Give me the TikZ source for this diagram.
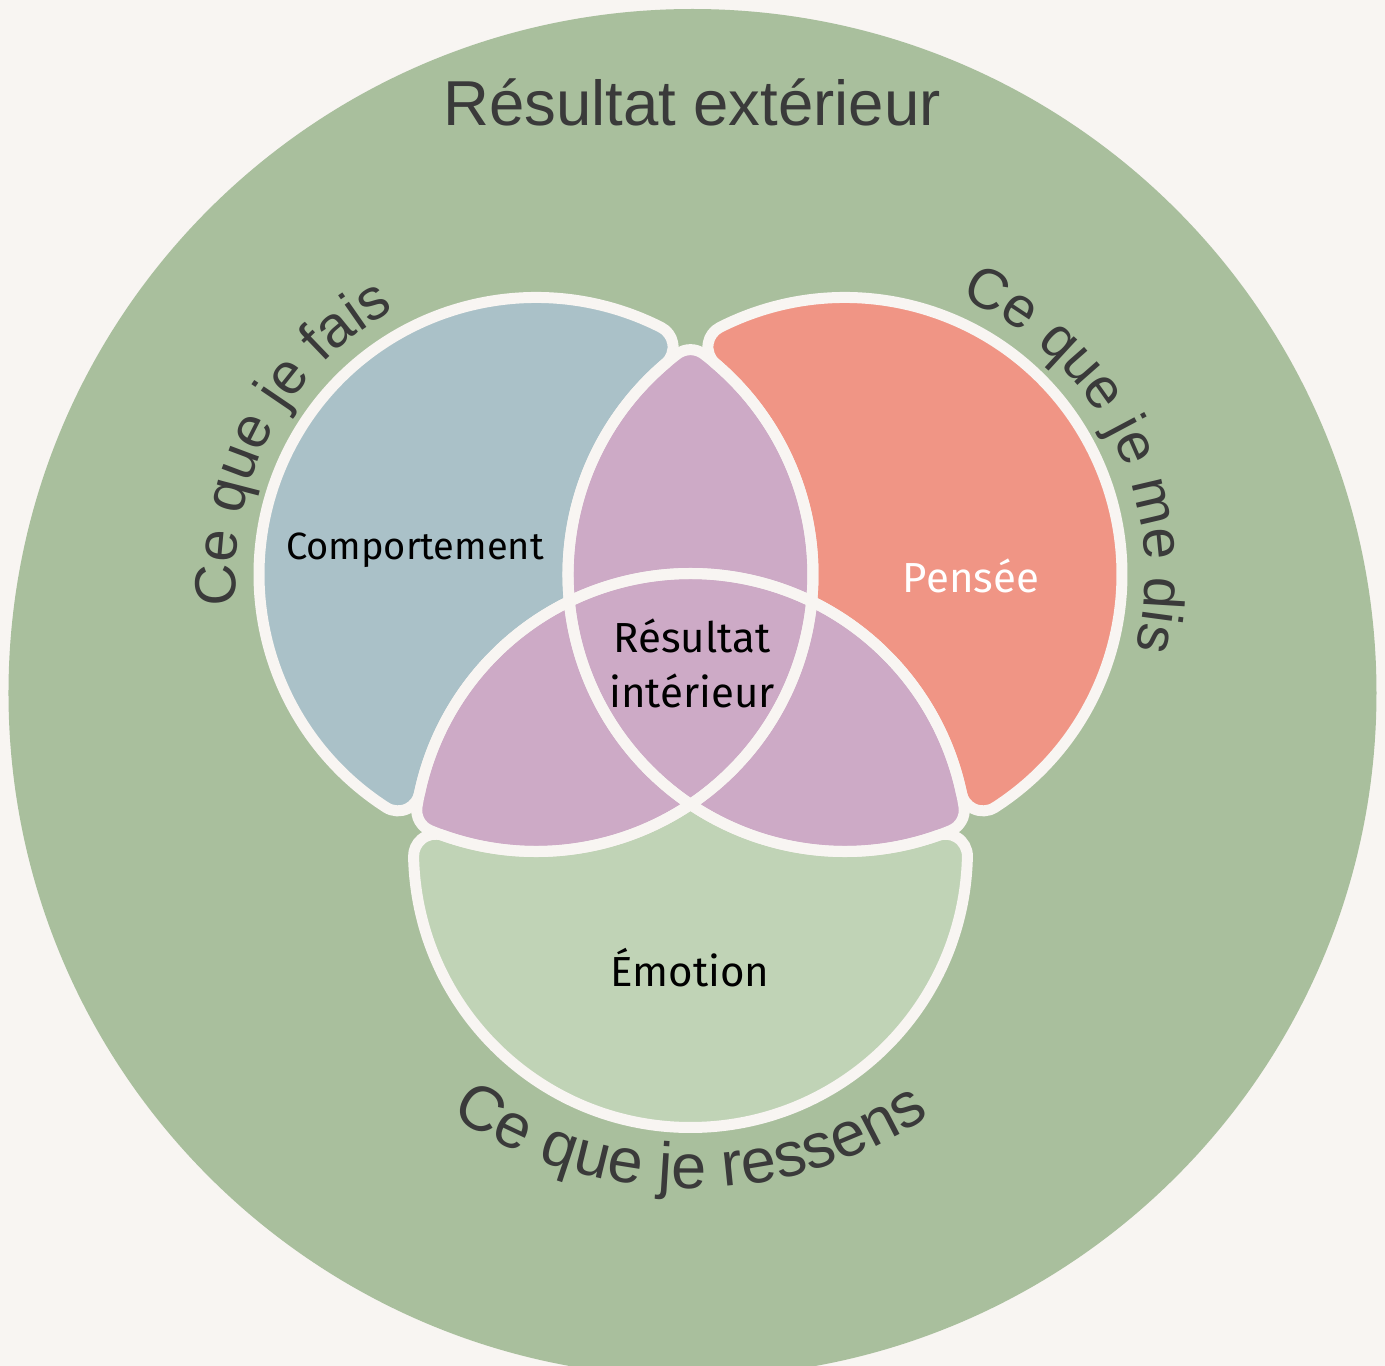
\documentclass[tikz,border=0pt]{standalone}
\usepackage{fontspec}
\setmainfont{Liberation Sans}
\newfontfamily\labelfont{Fira Sans}
\usetikzlibrary{decorations.text}

\definecolor{paper}{HTML}{F8F5F2}
\definecolor{sage}{HTML}{A9BF9D}
\definecolor{mist}{HTML}{AAC1C8}
\definecolor{salmon}{HTML}{F09585}
\definecolor{lilac}{HTML}{CDAAC6}
\definecolor{mint}{HTML}{C0D3B6}
\definecolor{ink}{HTML}{3A3A3A}

\newcommand\ringfont[1]{\fontsize{#1}{1.2\dimexpr#1pt\relax}\selectfont}
\newcommand\partfont[1]{\labelfont\fontsize{#1}{55}\selectfont}

\tikzset{
  band/.style={draw=paper, line width=11pt, line join=round},
  part label/.style={font=\partfont{42}, text=black, align=center},
  ring label/.style={font=\ringfont{63.5}, text=ink},
  ring text/.style 2 args={decorate, decoration={text along path, text align=center,
      text={|\ringfont{#1}\color{ink}|#2}}},
}

\begin{document}
\begin{tikzpicture}[x=1pt, y=1pt]
  \def\rad{277}
  \def\cx{154.5}
  \def\cy{276}
  \def\rc{22}
  % same lengths /100 so pgfmath stays in range
  \pgfmathsetmacro\mRad{2.77}
  \pgfmathsetmacro\mDx{1.545}
  \pgfmathsetmacro\mDy{2.76}
  \pgfmathsetmacro\mRc{0.22}
  \pgfmathsetmacro\mDist{sqrt(\mDx*\mDx+\mDy*\mDy)}
  \pgfmathsetmacro\angTilt{atan(\mDy/\mDx)}
  \pgfmathsetmacro\angIn{acos(\mDist/(2*\mRad))}
  \pgfmathsetmacro\angX{acos(\mDx/\mRad)}
  \pgfmathsetmacro\angA{acos((\mDx*\mDx-\mRad*\mRc)/(\mDx*(\mRad-\mRc)))}
  \pgfmathsetmacro\angB{acos((\mDx*\mDx+\mRad*\mRc)/(\mDx*(\mRad+\mRc)))}
  \pgfmathsetmacro\angG{acos(\mDx/(\mRad-\mRc))}
  \pgfmathsetmacro\angAA{acos((\mDist*\mDist-4*\mRad*\mRc)/(2*\mDist*(\mRad-\mRc)))}
  \pgfmathsetmacro\angBB{acos((\mDist*\mDist+4*\mRad*\mRc)/(2*\mDist*(\mRad+\mRc)))}
  \pgfmathsetmacro\angGG{acos(\mDist/(2*(\mRad-\mRc)))}
  % inner crossings
  \pgfmathsetmacro\yRr{180+\angTilt-\angIn}
  \pgfmathsetmacro\yRb{\angTilt+\angIn}
  \pgfmathsetmacro\yLl{\angIn-\angTilt}
  \pgfmathsetmacro\yLb{180-\angTilt-\angIn}
  \pgfmathsetmacro\zLa{360-\angX}
  \pgfmathsetmacro\zLb{0-\angX}
  \pgfmathsetmacro\zRa{180+\angX}
  % rounded outer corners
  \pgfmathsetmacro\blueS{180-\angB}
  \pgfmathsetmacro\blueF{0-\angB}
  \pgfmathsetmacro\blueL{360-\angTilt-\angAA}
  \pgfmathsetmacro\blueM{360-\angTilt+\angBB}
  \pgfmathsetmacro\blueN{180-\angTilt+\angBB}
  \pgfmathsetmacro\topM{180-\angG}
  \pgfmathsetmacro\lowA{180-\angTilt+\angGG}
  \pgfmathsetmacro\lowB{360-\angTilt-\angGG}
  \pgfmathsetmacro\emoA{180-\angTilt+\angAA}
  \pgfmathsetmacro\emoB{360+\angTilt-\angAA}
  \pgfmathsetmacro\emoC{\angTilt-\angAA}
  \pgfmathsetmacro\emoD{\angTilt+\angBB}
  \pgfmathsetmacro\emoE{180+\angTilt+\angBB}
  \pgfmathsetmacro\emoF{360-\angTilt-\angBB}
  \pgfmathsetmacro\emoG{180-\angTilt-\angBB}

  \def\partFais{({\cx+\rad*cos(\blueS)},{\rad*sin(\blueS)})
    arc[start angle=\blueF, end angle=\angA, radius=\rc]
    arc[start angle=\angA, end angle=\blueL, radius=\rad]
    arc[start angle=\blueL, end angle=\blueM, radius=\rc]
    arc[start angle=\blueN, end angle=\yRb, radius=\rad]
    arc[start angle=\yRr, end angle=\blueS, radius=\rad] -- cycle}
  \def\partTop{({-\cx+\rad*cos(\yLl)},{\rad*sin(\yLl)})
    arc[start angle=\yLl, end angle=\angG, radius=\rad]
    arc[start angle=\angG, end angle=\topM, radius=\rc]
    arc[start angle=\topM, end angle=\yRr, radius=\rad]
    arc[start angle=\yRb, end angle=\yLb, radius=\rad] -- cycle}
  \def\partMid{({\rad*cos(\yRb)},{-\cy+\rad*sin(\yRb)})
    arc[start angle=\yRb, end angle=\yLb, radius=\rad]
    arc[start angle=\yLl, end angle=\zLb, radius=\rad]
    arc[start angle=\zRa, end angle=\yRr, radius=\rad] -- cycle}
  \def\partLow{({\rad*cos(\yRb)},{-\cy+\rad*sin(\yRb)})
    arc[start angle=\yRb, end angle=\lowA, radius=\rad]
    arc[start angle=\lowA, end angle=\lowB, radius=\rc]
    arc[start angle=\lowB, end angle=\zLa, radius=\rad]
    arc[start angle=\zRa, end angle=\yRr, radius=\rad] -- cycle}
  \def\partSens{({\rad*cos(\emoA)},{-\cy+\rad*sin(\emoA)})
    arc[start angle=\emoA, end angle=\emoB, radius=\rad]
    arc[start angle=\emoC, end angle=\emoD, radius=\rc]
    arc[start angle=\emoE, end angle=\zRa, radius=\rad]
    arc[start angle=\zLa, end angle=\emoF, radius=\rad]
    arc[start angle=\emoG, end angle=\emoA, radius=\rc] -- cycle}

  \path[use as bounding box, fill=paper] (-690.5,-791.5) rectangle (694.5,574.5);
  \fill[sage] (2,-118.5) circle[radius=684];

  \fill[mist] \partFais;
  \fill[lilac] \partTop;
  \fill[lilac] \partMid;
  \fill[lilac] \partLow;
  \fill[mint] \partSens;
  \begin{scope}[xscale=-1]
    \fill[salmon] \partFais;
    \fill[lilac] \partLow;
  \end{scope}

  \path[band] \partFais;
  \path[band] \partTop;
  \path[band] \partMid;
  \path[band] \partLow;
  \path[band] \partSens;
  \begin{scope}[xscale=-1]
    \path[band] \partFais;
    \path[band] \partLow;
  \end{scope}

  \node[ring label] (exterieur) at (1.5,472.5) {Résultat extérieur};
  \path[ring text={58}{Ce que je fais}]
    ({-\cx+300*cos(200)},{300*sin(200)}) arc[start angle=200, end angle=104, radius=300];
  \path[ring text={57}{Ce que je me dis}]
    ({\cx+300*cos(80)},{300*sin(80)}) arc[start angle=80, end angle=-27, radius=300];
  \path[ring text={63}{Ce que je ressens}]
    ({430*cos(205)},{-183.5+430*sin(205)}) arc[start angle=205, end angle=335, radius=430];

  \node[part label, font=\partfont{38}] (comportement) at (-275.5,24.5) {Comportement};
  \node[part label, text=white] (pensee) at (280.5,-1.5) {Pensée};
  \node[part label] (interieur) at (1.5,-88.5) {Résultat\\intérieur};
  \node[part label] (emotion) at (-0.5,-393.5) {Émotion};
\end{tikzpicture}
\end{document}
